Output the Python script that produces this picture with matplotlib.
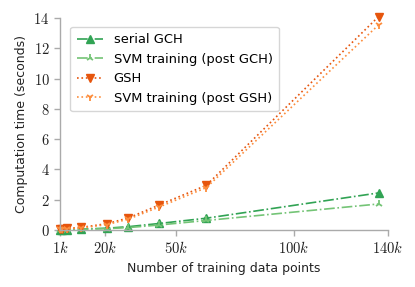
import matplotlib
matplotlib.use("Agg")
import matplotlib.pyplot as plt

plt.rcParams['mathtext.fontset'] = 'cm'
plt.rcParams['font.family'] = ['DejaVu Sans']

n_points = [1000, 2000, 4000, 10000, 21000, 30000, 43000, 63000, 136000]
gch = [0.01, 0.02, 0.03, 0.06, 0.12, 0.22, 0.43, 0.78, 2.45]
svm_gch = [0.01, 0.015, 0.025, 0.05, 0.09, 0.16, 0.33, 0.63, 1.72]
gsh = [0.05, 0.07, 0.1, 0.17, 0.42, 0.8, 1.65, 2.95, 14.1]
svm_gsh = [0.04, 0.06, 0.09, 0.14, 0.36, 0.72, 1.52, 2.8, 13.55]

xticks = [1000, 20000, 50000, 100000, 140000]
xticklabels = [r"$1k$", r"$20k$", r"$50k$", r"$100k$", r"$140k$"]
yticks = [0, 2, 4, 6, 8, 10, 12, 14]

fig = plt.figure(figsize=(4.15, 2.87), dpi=100)
ax = fig.add_axes([0.1446, 0.1986, 0.7904, 0.7384])

kw = dict(markersize=5.8, linewidth=1.2, clip_on=False)
ax.plot(n_points, gch, linestyle='-.', marker='^', color='#31a354', label='serial GCH', **kw)
ax.plot(n_points, svm_gch, linestyle='-.', marker='2', color='#74c476', label='SVM training (post GCH)', markeredgewidth=1.3, **kw)
ax.plot(n_points, gsh, linestyle=':', marker='v', color='#e6550d', label='GSH', **kw)
ax.plot(n_points, svm_gsh, linestyle=':', marker='1', color='#fd8d3c', label='SVM training (post GSH)', markeredgewidth=1.3, **kw)

ax.set_xlim(1000, 140000)
ax.set_ylim(0, 14)
ax.set_xticks(xticks)
ax.set_xticklabels(xticklabels)
ax.set_yticks(yticks)
ax.set_yticklabels([rf"${v}$" for v in yticks])

for s in ['top', 'right']:
    ax.spines[s].set_visible(False)
for s in ['left', 'bottom']:
    ax.spines[s].set_color('#aaaaaa')
    ax.spines[s].set_linewidth(1.0)
ax.tick_params(axis='both', colors='#aaaaaa', labelcolor='#222222', labelsize=10.5, length=4, width=1.0)

ax.set_xlabel('Number of training data points', fontsize=9, color='#222222')
ax.set_ylabel('Computation time (seconds)', fontsize=9, color='#222222')

leg = ax.legend(loc='upper left', bbox_to_anchor=(0.012, 0.99), fontsize=9.4, frameon=True,
                fancybox=True, edgecolor='#cccccc', handlelength=2.0, handletextpad=0.8,
                labelspacing=0.5, borderpad=0.5)
leg.get_frame().set_linewidth(1.0)

fig.savefig('out.png', dpi=100)
